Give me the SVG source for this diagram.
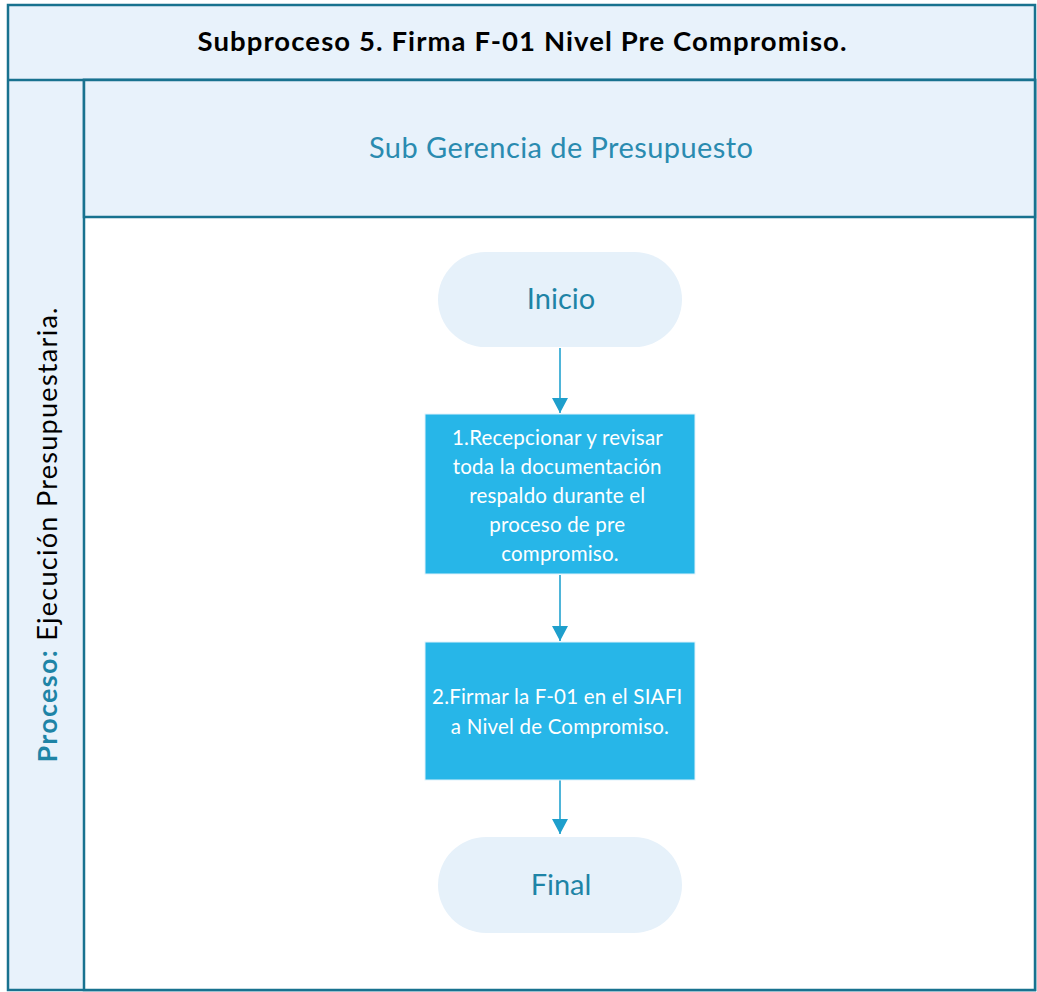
<svg xmlns="http://www.w3.org/2000/svg" width="1037" height="992" viewBox="0 0 1037 992">
  <style>
    .frame { fill: #e8f2fb; stroke: #18728f; stroke-width: 2.5; }
    .body { fill: #ffffff; stroke: #18728f; stroke-width: 2.5; }
    .term { fill: #e6f1fa; }
    .term-text { font-family: Lato, "Liberation Sans", sans-serif; font-size: 29px; fill: #1e84a6; text-anchor: middle; }
    .task { fill: #27b6e8; stroke: #dff2fb; stroke-width: 1; }
    .task-text { font-family: Lato, "Liberation Sans", sans-serif; font-size: 20.5px; fill: #ffffff; text-anchor: middle; letter-spacing: 0.2px; }
    .conn { stroke: #22a3d0; stroke-width: 1.6; fill: none; marker-end: url(#arrow); }
  </style>
  <defs>
    <marker id="arrow" markerWidth="15" markerHeight="16" refX="15" refY="8" orient="auto" markerUnits="userSpaceOnUse">
      <path d="M0,0 L15,8 L0,16 Z" fill="#1e9fcc"/>
    </marker>
  </defs>
  <rect width="1037" height="992" fill="#ffffff"/>

  <!-- pool frame -->
  <g id="pool">
    <rect class="frame" x="8" y="5" width="1027" height="985"/>
    <line x1="8" y1="80" x2="1035" y2="80" stroke="#18728f" stroke-width="2.5"/>
    <text x="522" y="51" font-family="Lato, 'Liberation Sans', sans-serif" font-size="27.5" font-weight="bold" fill="#000000" text-anchor="middle" textLength="649" lengthAdjust="spacing">Subproceso 5. Firma F-01 Nivel Pre Compromiso.</text>
  </g>

  <!-- process label column -->
  <g id="process-label">
    <text transform="translate(57,535) rotate(-90)" font-family="Lato, 'Liberation Sans', sans-serif" font-size="27" text-anchor="middle" textLength="455" lengthAdjust="spacing"><tspan font-weight="bold" fill="#1e84a6">Proceso:</tspan><tspan fill="#000000"> Ejecución Presupuestaria.</tspan></text>
  </g>

  <!-- lane -->
  <g id="lane">
    <rect class="body" x="84" y="80" width="951" height="910"/>
    <rect class="frame" x="84" y="80" width="951" height="137"/>
    <text x="561" y="158" font-family="Lato, 'Liberation Sans', sans-serif" font-size="29" fill="#2a8bb0" text-anchor="middle" textLength="384" lengthAdjust="spacing">Sub Gerencia de Presupuesto</text>
  </g>

  <!-- connectors -->
  <g id="connectors">
    <line class="conn" x1="560" y1="348" x2="560" y2="413"/>
    <line class="conn" x1="560" y1="575" x2="560" y2="641"/>
    <line class="conn" x1="560" y1="780" x2="560" y2="834"/>
  </g>

  <g id="inicio">
    <rect class="term" x="438" y="252" width="244" height="95" rx="47.5"/>
    <text class="term-text" x="561" y="309">Inicio</text>
  </g>

  <g id="task1">
    <rect class="task" x="425" y="414" width="270" height="160"/>
    <text class="task-text">
      <tspan x="560" y="445">1.Recepcionar y revisar</tspan>
      <tspan x="560" y="474">toda la documentación</tspan>
      <tspan x="560" y="503">respaldo durante el</tspan>
      <tspan x="560" y="532">proceso de pre</tspan>
      <tspan x="560" y="561">compromiso.</tspan>
    </text>
  </g>

  <g id="task2">
    <rect class="task" x="425" y="642" width="270" height="138"/>
    <text class="task-text">
      <tspan x="560" y="704">2.Firmar la F-01 en el SIAFI</tspan>
      <tspan x="560" y="734">a Nivel de Compromiso.</tspan>
    </text>
  </g>

  <g id="final">
    <rect class="term" x="438" y="837" width="244" height="96" rx="48"/>
    <text class="term-text" x="561" y="895">Final</text>
  </g>
</svg>
